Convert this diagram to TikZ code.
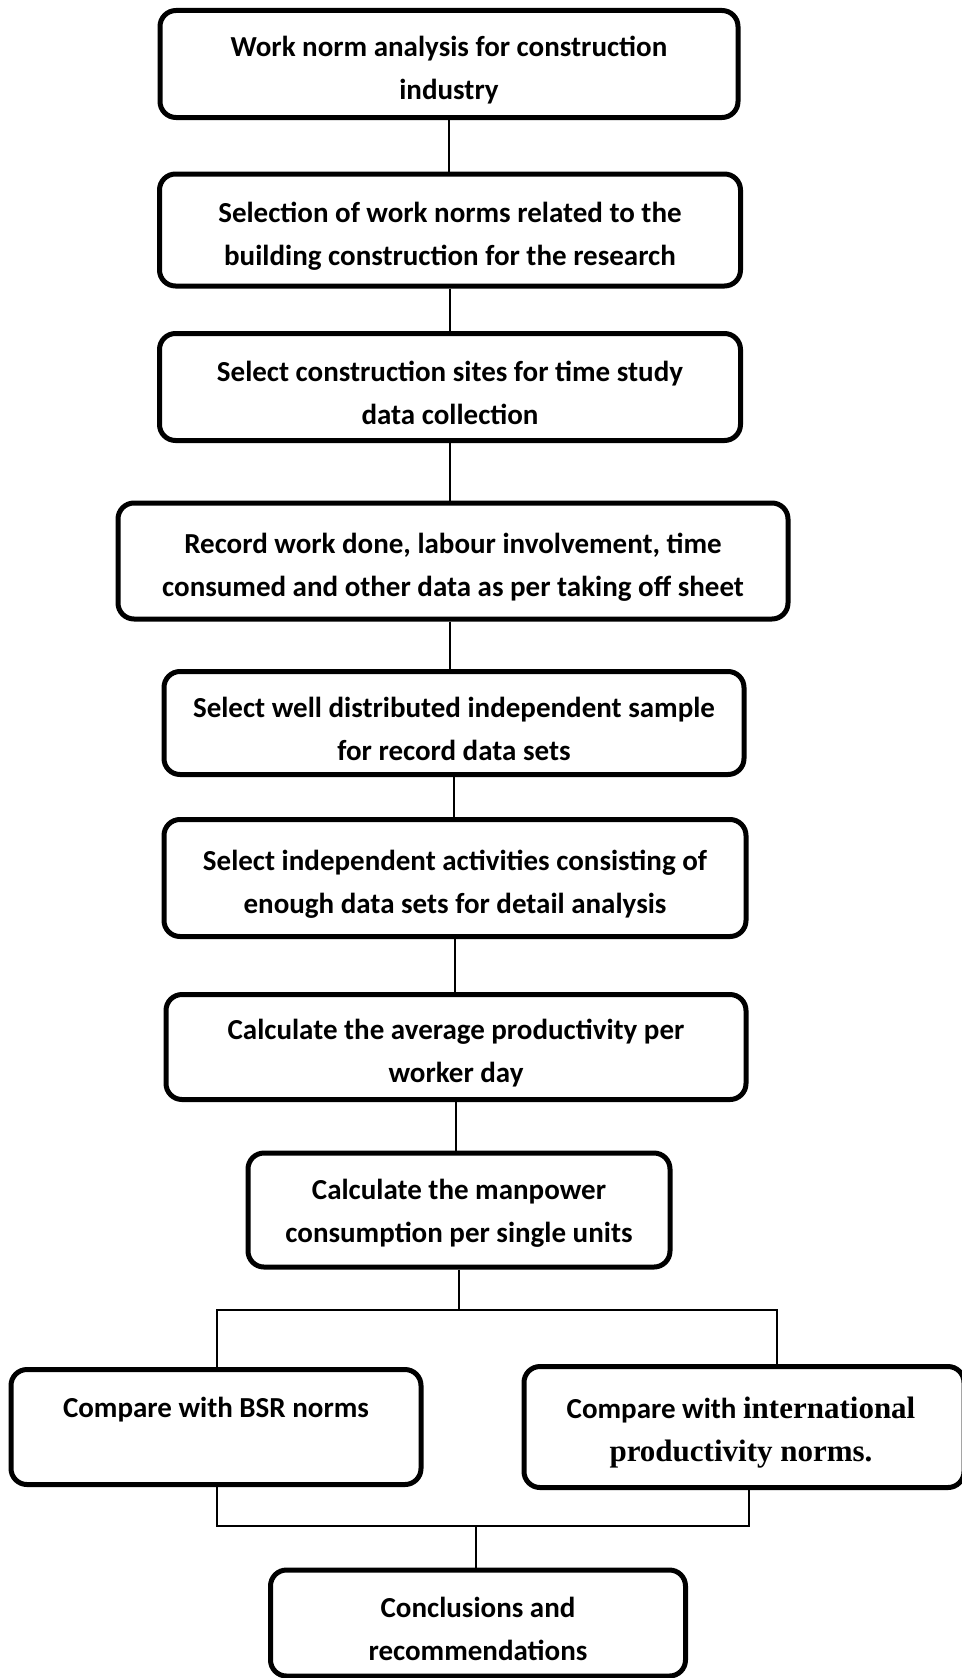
\documentclass[tikz,border=0pt]{standalone}
\usepackage{fontspec}
\setmainfont{Carlito}
\newfontfamily\serifb{Liberation Serif}
\begin{document}
\begin{tikzpicture}[x=1pt,y=-1pt,
  box/.style={draw, line width=5pt, rounded corners=16pt, inner sep=0pt},
  txt/.style={align=center, inner sep=0pt, yshift=-6pt,
    font=\fontsize{29}{43}\selectfont\bfseries},
  link/.style={draw, line width=2pt}]
\useasboundingbox (0,0) rectangle (961,1678);
\node[box, minimum width=578, minimum height=107] (b1) at (449,64) {};
\node[box, minimum width=581, minimum height=112] (b2) at (450,230) {};
\node[box, minimum width=581, minimum height=107] (b3) at (450,387) {};
\node[box, minimum width=670, minimum height=116] (b4) at (453,561) {};
\node[box, minimum width=580, minimum height=103] (b5) at (454,723) {};
\node[box, minimum width=582, minimum height=117] (b6) at (455,878) {};
\node[box, minimum width=580, minimum height=105] (b7) at (456,1047) {};
\node[box, minimum width=422, minimum height=114] (b8) at (459,1210) {};
\node[box, minimum width=410, minimum height=115] (b9) at (216,1427) {};
\node[box, minimum width=440, minimum height=121] (b10) at (744,1427) {};
\node[box, minimum width=415, minimum height=106] (b11) at (478,1623) {};
\node[txt] (t1) at (b1.center) {Work norm analysis for construction\\industry};
\node[txt] (t2) at (b2.center) {Selection of work norms related to the\\building construction for the research};
\node[txt] (t3) at (b3.center) {Select construction sites for time study\\data collection};
\node[txt] (t4) at (b4.center) {Record work done, labour involvement, time\\consumed and other data as per taking off sheet};
\node[txt] (t5) at (b5.center) {Select well distributed independent sample\\for record data sets};
\node[txt] (t6) at (b6.center) {Select independent activities consisting of\\enough data sets for detail analysis};
\node[txt] (t7) at (b7.center) {Calculate the average productivity per\\worker day};
\node[txt, yshift=3pt] (t8) at (b8.center) {Calculate the manpower\\consumption per single units};
\node[txt, yshift=4pt] (t9) at (b9.center) {Compare with BSR norms\\\mbox{}};
\node[txt] (t10) at ([xshift=-3pt]b10.center) {Compare with {\fontsize{31}{43}\selectfont\serifb international}\\{\fontsize{31}{43}\selectfont\serifb productivity norms.}};
\node[txt] (t11) at (b11.center) {Conclusions and\\recommendations};
\draw[link] (b1.south) -- (b1.south |- b2.north);
\draw[link] (b2.south) -- (b2.south |- b3.north);
\draw[link] (b3.south) -- (b3.south |- b4.north);
\draw[link] (b4.south -| b3.south) -- (b3.south |- b5.north);
\draw[link] (b5.south) -- (b5.south |- b6.north);
\draw[link] (b6.south) -- (b6.south |- b7.north);
\draw[link] (b7.south) -- (b7.south |- b8.north);
\coordinate (jl) at (217,1310);
\coordinate (jr) at (777,1310);
\coordinate (kl) at (217,1526);
\coordinate (kr) at (749,1526);
\coordinate (km) at (476,1526);
\draw[link] (b8.south) -- (b8.south |- jl);
\draw[link] (jl |- b9.north) -- (jl) -- (jr) -- (jr |- b10.north);
\draw[link] (kl |- b9.south) -- (kl) -- (kr) -- (kr |- b10.south);
\draw[link] (km) -- (km |- b11.north);
\end{tikzpicture}
\end{document}
